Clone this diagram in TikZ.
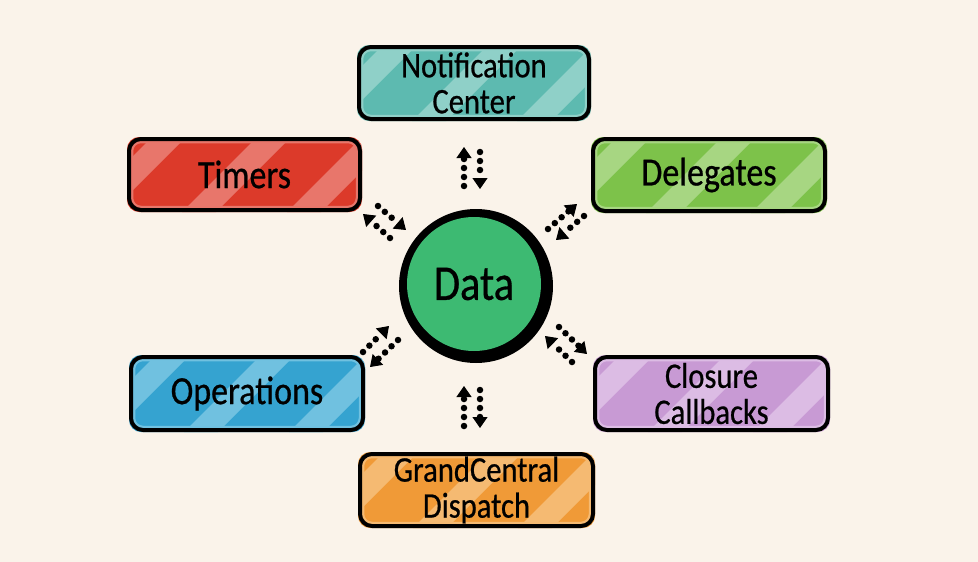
\documentclass[tikz,border=0pt]{standalone}
\usepackage{fontspec}
\setmainfont{Carlito}[FakeStretch=0.85,FakeBold=0.6]
\usetikzlibrary{arrows.meta}
\definecolor{bg}{HTML}{FAF3EA}
\definecolor{redF}{HTML}{DC3A2A}\definecolor{redL}{HTML}{E8766B}
\definecolor{tealF}{HTML}{5DBAB0}\definecolor{tealL}{HTML}{8FD0C8}
\definecolor{grnF}{HTML}{7DC24A}\definecolor{grnL}{HTML}{A7D682}
\definecolor{purF}{HTML}{C89AD4}\definecolor{purL}{HTML}{DCBCE4}
\definecolor{bluF}{HTML}{35A3D0}\definecolor{bluL}{HTML}{70C1E0}
\definecolor{orgF}{HTML}{F09A37}\definecolor{orgL}{HTML}{F5BA72}
\definecolor{dataG}{HTML}{3DBA72}
\tikzset{
  boxline/.style={draw=black, line width=4pt, rounded corners=12pt, inner sep=0pt, align=center, text=black},
  onel/.style={font=\fontsize{40}{44}\selectfont},
  twol/.style={font=\fontsize{36}{36}\selectfont},
  flow/.style={draw=black, line width=6.5pt, line cap=round, dash pattern=on 0pt off 9pt,
    -{Triangle[width=15pt,length=11pt,line width=1pt]}},
}
\newcommand\stripedbox[9]{%
  \pgfmathsetmacro\bxl{#2-#4/2}\pgfmathsetmacro\bxr{#2+#4/2}%
  \pgfmathsetmacro\bxt{#3-#5/2}\pgfmathsetmacro\bxb{#3+#5/2}%
  \fill[#6, rounded corners=12pt] (\bxl,\bxt) rectangle (\bxr,\bxb);
  \begin{scope}
    \clip[rounded corners=12pt] (\bxl,\bxt) rectangle (\bxr,\bxb);
    \foreach \k in {0,...,3}{
      \pgfmathsetmacro\stx{\bxl-50+\k*105}
      \fill[#7] (\stx,\bxb) -- ++(34,0) -- ++(#5,-#5) -- ++(-34,0) -- cycle;
    }
    \draw[#7, line width=2.5pt, rounded corners=9pt] (\bxl+5,\bxt+5) rectangle (\bxr-5,\bxb-5);
  \end{scope}
  \node[boxline, #9, minimum width={#4pt-4pt}, minimum height={#5pt-4pt}] (#1) at (#2,#3) {#8};
}
\begin{document}
\begin{tikzpicture}[x=1pt,y=-1pt]
\fill[bg] (0,0) rectangle (978,562);
\useasboundingbox (0,0) rectangle (978,562);

\stripedbox{notif}{474}{83}{234}{76}{tealF}{tealL}{Notification\\Center}{twol}
\stripedbox{timers}{244.5}{174.5}{235}{75}{redF}{redL}{Timers}{onel}
\stripedbox{deleg}{709}{175}{236}{76}{grnF}{grnL}{Delegates}{onel}
\stripedbox{closure}{711.5}{393.5}{237}{77}{purF}{purL}{Closure\\Callbacks}{twol}
\stripedbox{ops}{247}{393.5}{236}{77}{bluF}{bluL}{Operations}{onel}
\stripedbox{gcd}{476.5}{490}{237}{76}{orgF}{orgL}{GrandCentral\\Dispatch}{twol}

\fill[black] (476,286) circle[radius=77pt];
\node[circle, fill=dataG, minimum size=134pt, inner sep=0pt, text=black,
  font=\fontsize{50}{54}\selectfont] (data) at (474,284) {Data};

% arrow end points
\coordinate (t1a) at (464,186); \coordinate (t1b) at (464,147);
\coordinate (t2a) at (480,152); \coordinate (t2b) at (480,189);
\coordinate (b1a) at (464,426); \coordinate (b1b) at (464,386);
\coordinate (b2a) at (480,390); \coordinate (b2b) at (480,428);
\coordinate (ul1a) at (378,206); \coordinate (ul1b) at (406,230);
\coordinate (ul2a) at (390,238); \coordinate (ul2b) at (363,214);
\coordinate (ur1a) at (548,229); \coordinate (ur1b) at (577,204);
\coordinate (ur2a) at (584,216); \coordinate (ur2b) at (556,240);
\coordinate (ll1a) at (363,352); \coordinate (ll1b) at (389,326);
\coordinate (ll2a) at (398,340); \coordinate (ll2b) at (370,367);
\coordinate (lr1a) at (572,362); \coordinate (lr1b) at (545,336);
\coordinate (lr2a) at (559,327); \coordinate (lr2b) at (587,354);

\foreach \p in {t1,t2,b1,b2,ul1,ul2,ur1,ur2,ll1,ll2,lr1,lr2}
  \draw[flow] (\p a) -- (\p b);
\end{tikzpicture}
\end{document}
